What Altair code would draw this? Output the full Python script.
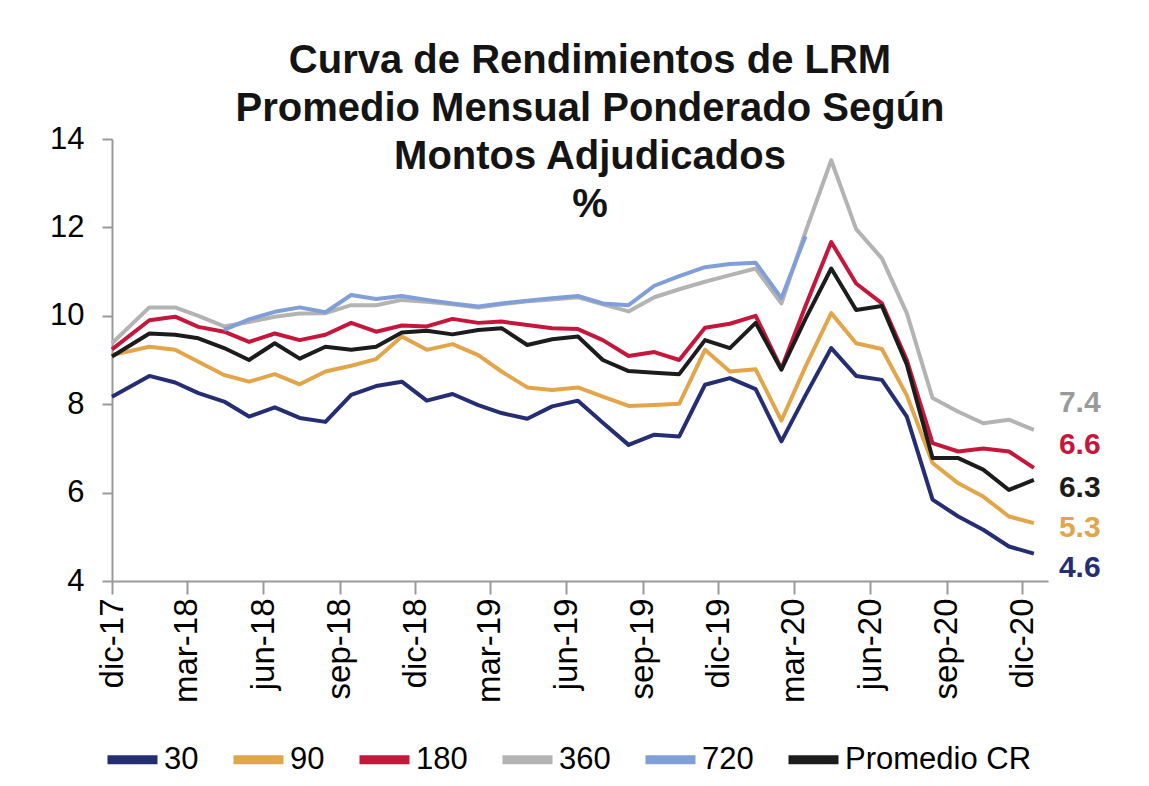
import altair as alt
import pandas as pd

# Fechas (dato mensual; primer punto en dic-17)
meses = ["2017-12-01"] + [f"{a}-{m:02d}-15" for a in (2018, 2019, 2020) for m in range(1, 13)]

series = ["30", "90", "180", "360", "720", "Promedio CR"]
colores = ["#252e72", "#e2a54a", "#c5173b", "#b3b3b3", "#809fd8", "#1c1c1c"]

s30 = [8.17, 8.64, 8.49, 8.25, 8.06, 7.72, 7.93, 7.69, 7.60, 8.21, 8.41, 8.51, 8.08,
       8.23, 7.98, 7.80, 7.67, 7.95, 8.08, 7.58, 7.08, 7.31, 7.27, 8.44, 8.59,
       8.34, 7.16, 8.20, 9.27, 8.64, 8.55, 7.72, 5.84, 5.46, 5.16, 4.78, 4.62]
s90 = [9.11, 9.30, 9.23, 8.96, 8.66, 8.51, 8.68, 8.45, 8.74, 8.87, 9.02, 9.53, 9.23,
       9.36, 9.11, 8.74, 8.38, 8.32, 8.38, 8.17, 7.96, 7.98, 8.01, 9.23, 8.74,
       8.79, 7.63, 8.85, 10.06, 9.38, 9.25, 8.20, 6.67, 6.21, 5.91, 5.46, 5.31]
s180 = [9.24, 9.90, 9.98, 9.75, 9.64, 9.41, 9.60, 9.45, 9.57, 9.84, 9.64, 9.78, 9.76,
        9.93, 9.84, 9.87, 9.79, 9.72, 9.70, 9.45, 9.09, 9.18, 9.00, 9.73, 9.82,
        10.00, 8.80, 10.22, 11.67, 10.73, 10.28, 9.00, 7.12, 6.93, 7.00, 6.93, 6.56]
s360 = [9.38, 10.19, 10.19, 10.00, 9.76, 9.86, 9.98, 10.05, 10.06, 10.24, 10.24, 10.36, 10.32,
        10.26, 10.19, 10.26, 10.33, 10.37, 10.42, 10.26, 10.10, 10.42, 10.60, 10.77, 10.92,
        11.07, 10.28, 11.90, 13.52, 11.96, 11.30, 10.06, 8.14, 7.83, 7.57, 7.65, 7.42]
s720 = [None, None, None, None, 9.68, 9.92, 10.09, 10.19, 10.08, 10.47, 10.38, 10.45, 10.36,
        10.28, 10.21, 10.28, 10.34, 10.40, 10.45, 10.28, 10.24, 10.68, 10.90, 11.10, 11.17,
        11.20, 10.40, 11.80, None, None, None, None, None, None, None, None, None]
sCR = [9.08, 9.60, 9.57, 9.49, 9.27, 9.00, 9.38, 9.03, 9.30, 9.23, 9.30, 9.62, 9.66,
       9.58, 9.68, 9.72, 9.34, 9.47, 9.53, 9.00, 8.75, 8.71, 8.68, 9.45, 9.27,
       9.84, 8.78, 9.93, 11.07, 10.13, 10.22, 8.90, 6.78, 6.78, 6.52, 6.06, 6.29]

valores = [s30, s90, s180, s360, s720, sCR]

rows = []
for nombre, vals in zip(series, valores):
    for f, v in zip(meses, vals):
        rows.append({"fecha": f + "T00:00:00", "serie": nombre, "valor": v})
df = pd.DataFrame(rows)

FONT = "Liberation Sans"
AXIS_COL = "#9a9a9a"

tick_fechas = [alt.DateTime(year=2017 + (11 + 3 * k) // 12, month=(11 + 3 * k) % 12 + 1, date=1)
               for k in range(13)]

meses_es = "['ene','feb','mar','abr','may','jun','jul','ago','sep','oct','nov','dic']"

x_enc = alt.X(
    "fecha:T",
    title=None,
    scale=alt.Scale(domain=[alt.DateTime(year=2017, month=12, date=1),
                            alt.DateTime(year=2021, month=1, date=1)]),
    axis=alt.Axis(values=tick_fechas,
                  labelExpr=meses_es + "[month(datum.value)] + '-' + timeFormat(datum.value, '%y')",
                  labelAngle=270, labelFont=FONT, labelFontSize=33, labelColor="#000",
                  labelPadding=4, tickSize=13, tickWidth=2, tickColor=AXIS_COL,
                  domainColor=AXIS_COL, domainWidth=2, grid=False, labelOverlap=False),
)
y_enc = alt.Y(
    "valor:Q",
    title=None,
    scale=alt.Scale(domain=[4, 14], nice=False, zero=False),
    axis=alt.Axis(values=[4, 6, 8, 10, 12, 14], labelFont=FONT, labelFontSize=31,
                  labelColor="#000", labelPadding=18, tickSize=10, tickWidth=2,
                  tickColor=AXIS_COL, domainColor=AXIS_COL, domainWidth=2, grid=False),
)

lineas = alt.Chart(df).mark_line(strokeWidth=4, strokeJoin="round").encode(
    x=x_enc,
    y=y_enc,
    color=alt.Color(
        "serie:N",
        sort=series,
        scale=alt.Scale(domain=series, range=colores),
        legend=alt.Legend(title=None, orient="none", legendX=-9, legendY=591,
                          direction="horizontal", columns=6, symbolType="stroke",
                          symbolStrokeWidth=9, symbolSize=2500, labelFont=FONT,
                          labelFontSize=31, labelColor="#000", labelOffset=2,
                          labelLimit=0, columnPadding=16),
    ),
)

# Etiquetas del último valor
etiq_dy = [14, 5, -23, -27, 0, 8]
capas = [lineas]
for nombre, vals, col, dy in zip(series, valores, colores, etiq_dy):
    if vals[-1] is None:
        continue
    dfl = pd.DataFrame({"fecha": [meses[-1] + "T00:00:00"], "valor": [vals[-1]],
                        "texto": [f"{vals[-1]:.1f}"]})
    tcol = "#9a9a9a" if nombre == "360" else col
    capas.append(
        alt.Chart(dfl).mark_text(align="left", baseline="middle", dx=25, dy=dy,
                                 font=FONT, fontSize=30, fontWeight="bold", color=tcol)
        .encode(x=alt.X("fecha:T"), y=alt.Y("valor:Q"), text="texto:N")
    )

chart = alt.layer(*capas).properties(
    width=936,
    height=442,
    background="white",
    title=alt.TitleParams(
        text=["Curva de Rendimientos de LRM", "Promedio Mensual Ponderado Según",
              "Montos Adjudicados", "%"],
        font=FONT, fontSize=40, fontWeight="bold", lineHeight=48, anchor="middle",
        offset=-102, dx=10, color="#141414"),
    autosize=alt.AutoSizeParams(type="none"),
    padding={"left": 104, "top": 131, "right": 90, "bottom": 200},
).configure_view(stroke=None)

chart.save("out.html", embed_options={"renderer": "svg", "actions": False})
